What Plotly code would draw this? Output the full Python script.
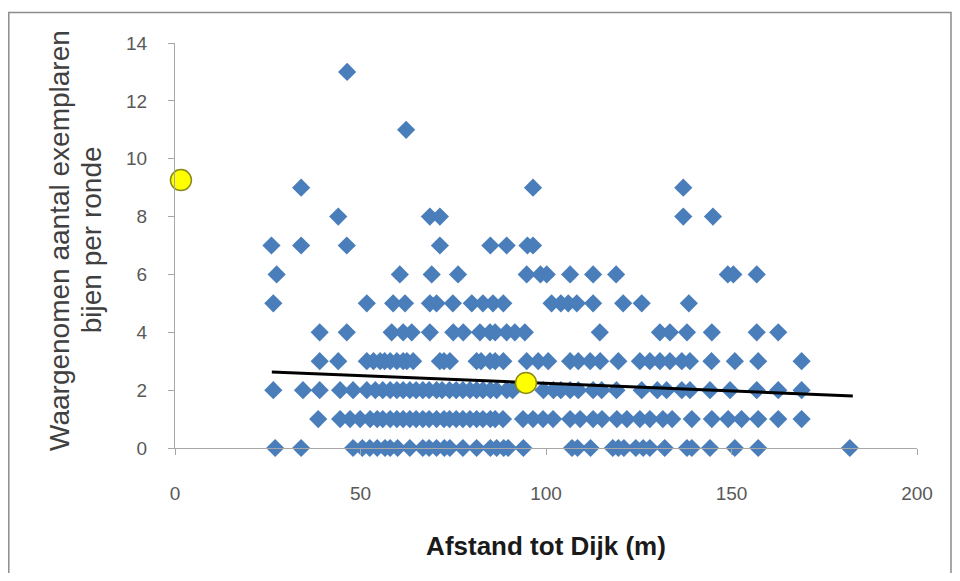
import plotly.graph_objects as go

# Observed bees per round (y) vs distance to dike (x), grouped by count row
row_x = {
    0: [27, 34, 48, 50.5, 52.5, 54.5, 56.6, 58, 60, 63.3, 66.8, 68.5, 70.5, 72.6, 74.1, 77.6,
        81.3, 85, 86.7, 88.6, 89.8, 93.9, 107, 108.5, 112, 118, 119.5, 121, 124.2, 126.2,
        128, 132, 138, 139.3, 144.2, 150.9, 157.2, 181.9],
    1: [38.6, 44.5, 47.2, 49.9, 52.6, 54.5, 56, 58, 59.8, 61.5, 63.3, 65, 66.8, 68.5, 70.5,
        72.5, 74, 75.8, 77.6, 79.5, 81.3, 83, 85, 86.3, 88.4, 93.8, 96.5, 99.2, 101.9, 106.5,
        109.2, 112.7, 115.1, 119.1, 121.8, 125.3, 128, 131.5, 134, 139.3, 144.7, 149.1,
        152.7, 157.2, 162.6, 168.9],
    2: [26.5, 34.5, 39, 44.5, 48, 51.7, 54, 56, 58, 59.8, 61.5, 63.3, 65, 66.8, 68.5, 70.5,
        72, 74, 75.8, 77.6, 79.5, 81.3, 83, 85, 86.7, 89.4, 91, 99.3, 102, 104, 106.5, 108.7,
        112.7, 115, 119, 125.8, 130, 132.5, 136.6, 138.8, 144.2, 149.6, 156.8, 162.6, 168.9],
    3: [39, 44, 51.7, 53.5, 55.3, 56.5, 58, 59.8, 61.5, 62.5, 64.2, 71.4, 72.5, 74.1, 81.3,
        82.5, 84.9, 86.3, 88.5, 94.8, 97.9, 100.6, 106.5, 108.7, 111.9, 114.6, 119.5, 125.3,
        128, 130.7, 133.4, 136.6, 138.8, 144.6, 150.9, 157.2, 168.9],
    4: [39, 46.3, 58.4, 61.5, 63.8, 68.7, 75, 77.7, 82.2, 84.9, 86.3, 89.4, 91.6, 94.3, 114.5,
        130.7, 133.4, 138, 144.7, 156.8, 162.6],
    5: [26.5, 51.7, 58.8, 62, 68.7, 70.5, 74.9, 80, 83, 85.7, 88.5, 101.5, 104, 106, 108.3,
        112.7, 120.8, 125.8, 138.5],
    6: [27.4, 60.6, 69.2, 76.3, 94.8, 98.5, 100.2, 106.5, 112.7, 118.9, 149, 150.5, 156.8],
    7: [26, 34, 46.3, 71.4, 85, 89.4, 95, 96.5],
    8: [44, 68.7, 71.4, 137, 145],
    9: [34, 96.5, 137],
    11: [62.3],
    13: [46.4],
}

distance = [x for y, xs in row_x.items() for x in xs]
bees = [y for y, xs in row_x.items() for _ in xs]

# Linear trend line endpoints
trend_x = [26.1, 182.7]
trend_y = [2.63, 1.80]

# Highlighted (yellow) points
highlight_x = [1.6, 94.6]
highlight_y = [9.26, 2.25]

x_ticks = [0, 50, 100, 150, 200]
y_ticks = [0, 2, 4, 6, 8, 10, 12, 14]

y_title_lines = ["Waargenomen aantal exemplaren", "bijen per ronde"]
x_title = "Afstand tot Dijk (m)"

FONT = "Liberation Sans, Arial, sans-serif"

fig = go.Figure()
fig.add_trace(go.Scatter(
    x=distance, y=bees, mode="markers",
    marker=dict(symbol="diamond", size=14, color="#4a7ebb", line=dict(width=0)),
    showlegend=False, cliponaxis=False,
))
fig.add_trace(go.Scatter(
    x=trend_x, y=trend_y, mode="lines",
    line=dict(color="black", width=3), showlegend=False,
))
fig.add_trace(go.Scatter(
    x=highlight_x, y=highlight_y, mode="markers",
    marker=dict(symbol="circle", size=21, color="#ffff00",
                line=dict(color="#8a8a1a", width=1.5)),
    showlegend=False, cliponaxis=False,
))

axis_font = dict(family=FONT, size=19, color="#595959")
title_font = dict(family=FONT, size=28, color="#404040")
fig.update_layout(
    width=944, height=565,
    margin=dict(l=167, r=35, t=35, b=125),
    paper_bgcolor="white", plot_bgcolor="white",
    font=dict(family=FONT),
    xaxis=dict(
        range=[0, 200], tickvals=x_ticks, showgrid=False, zeroline=False,
        showline=True, linecolor="#a6a6a6", linewidth=1,
        ticks="outside", ticklen=6, tickcolor="#a6a6a6",
        tickfont=axis_font, ticklabelstandoff=22,
        title=dict(text="<b>" + x_title + "</b>",
                   font=dict(family=FONT, size=26, color="#1a1a1a"),
                   standoff=34),
    ),
    yaxis=dict(
        range=[0, 14], tickvals=y_ticks, showgrid=False, zeroline=False,
        showline=True, linecolor="#a6a6a6", linewidth=1,
        ticks="outside", ticklen=6, tickcolor="#a6a6a6",
        tickfont=axis_font, ticklabelstandoff=17,
    ),
    annotations=[
        dict(text=y_title_lines[0], textangle=-90, xref="paper", yref="paper",
             x=-0.155, y=0.5136, xanchor="center", yanchor="middle",
             showarrow=False, font=title_font),
        dict(text=y_title_lines[1], textangle=-90, xref="paper", yref="paper",
             x=-0.1115, y=0.5136, xanchor="center", yanchor="middle",
             showarrow=False, font=title_font),
    ],
    shapes=[dict(type="rect", xref="paper", yref="paper",
                 x0=-0.224, x1=1.0458, y0=-0.34, y1=1.0753,
                 line=dict(color="#8c8c8c", width=1.5), fillcolor="rgba(0,0,0,0)", layer="below")],
)

fig.write_html("out.html")
